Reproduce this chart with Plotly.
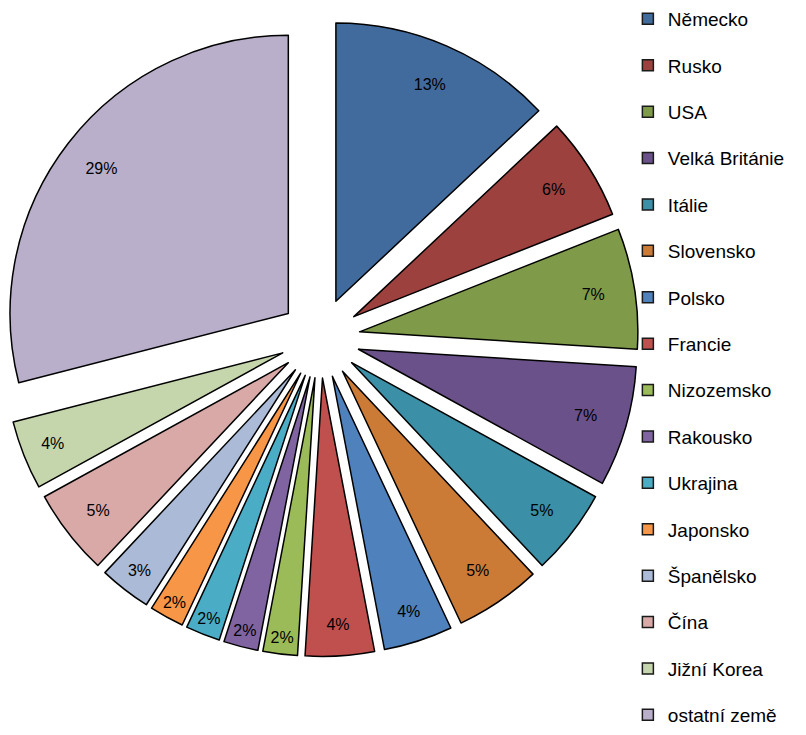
import plotly.graph_objects as go

countries = ["Německo", "Rusko", "USA", "Velká Británie", "Itálie", "Slovensko",
             "Polsko", "Francie", "Nizozemsko", "Rakousko", "Ukrajina", "Japonsko",
             "Španělsko", "Čína", "Jižní Korea", "ostatní země"]
shares = [13, 6, 7, 7, 5, 5, 4, 4, 2, 2, 2, 2, 3, 5, 4, 29]
colors = ["#416B9D", "#9D413E", "#7F9B4A", "#6A518A", "#3B8FA6", "#CC7B36",
          "#4F81BD", "#C0504D", "#9BBB59", "#8064A2", "#4BACC6", "#F79646",
          "#AABAD7", "#D9A9A8", "#C6D6AC", "#B9AFCB"]

PULL = 0.144
DOMAIN = dict(x=[0.002, 0.792], y=[0.105, 0.975])
FONT = "Liberation Sans, Arial, sans-serif"

fig = go.Figure()
# slices
fig.add_trace(go.Pie(
    labels=countries, values=shares, sort=False, direction="clockwise", rotation=0,
    marker=dict(colors=colors, line=dict(color="#000000", width=1.5)),
    pull=[PULL] * len(shares), textinfo="none", hoverinfo="label+percent",
    showlegend=False, domain=DOMAIN,
))
# percentage labels placed in the outer ring of each slice
fig.add_trace(go.Pie(
    labels=countries, values=shares, sort=False, direction="clockwise", rotation=0,
    hole=0.7,
    marker=dict(colors=["rgba(0,0,0,0)"] * len(shares), line=dict(width=0)),
    pull=[PULL] * len(shares),
    textinfo="percent", texttemplate="%{percent:.0%}",
    textposition="inside", insidetextorientation="horizontal",
    textfont=dict(family=FONT, size=16, color="#000000"),
    hoverinfo="skip", showlegend=False, domain=DOMAIN,
))

for name, col in zip(countries, colors):
    fig.add_trace(go.Scatter(
        x=[None], y=[None], mode="markers", name=name, legendgroup=name,
        marker=dict(symbol="square", size=11, color=col, line=dict(color="#1a1a1a", width=1.5)),
    ))

fig.update_layout(
    width=806, height=735,
    margin=dict(l=0, r=0, t=0, b=0, autoexpand=False),
    paper_bgcolor="#FFFFFF", plot_bgcolor="#FFFFFF",
    xaxis=dict(visible=False), yaxis=dict(visible=False),
    legend=dict(x=0.779, y=1.0, xanchor="left", yanchor="top",
                font=dict(family=FONT, size=19, color="#000000"),
                tracegroupgap=18.7, bgcolor="rgba(0,0,0,0)"),
    showlegend=True,
)

fig.write_html("out.html", config={"displayModeBar": False},
               post_script="document.body.style.margin='0px';")
